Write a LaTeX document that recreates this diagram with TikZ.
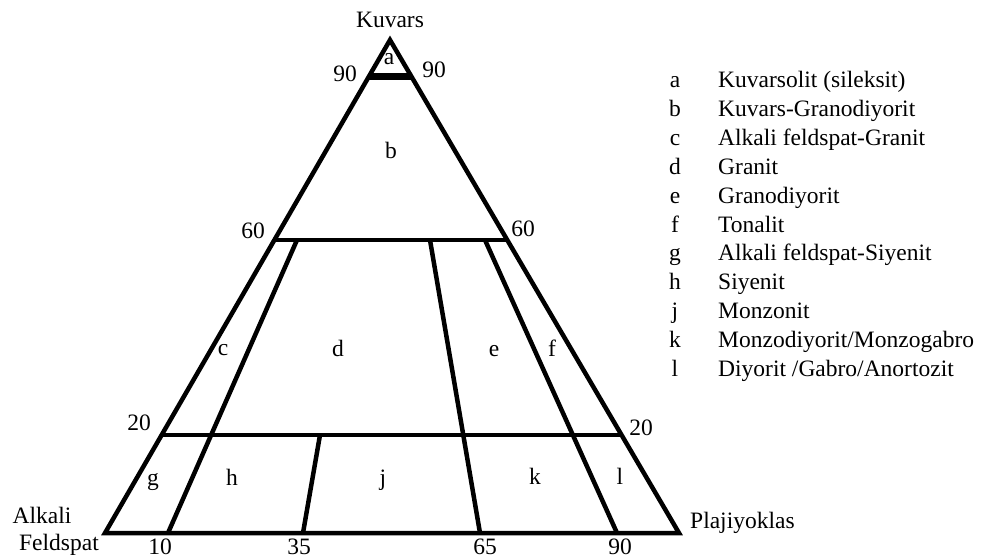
\documentclass[tikz,border=0pt]{standalone}
\usepackage{fontspec}
\setmainfont{Liberation Serif}
\usetikzlibrary{calc}
\begin{document}
\begin{tikzpicture}[x=1pt,y=-1pt,
  font=\fontsize{23.5}{28}\selectfont,
  edge/.style={line width=4.5pt, line join=miter},
  thickedge/.style={line width=7pt},
  lbl/.style={inner sep=0pt, anchor=base},
  lgl/.style={inner sep=0pt, anchor=base},
  lgn/.style={inner sep=0pt, anchor=base west}]
\useasboundingbox (0,0) rectangle (993,559);
% triangle corners
\coordinate (Q) at (390,40);
\coordinate (AF) at (105,533);
\coordinate (PL) at (679,533);
% horizontal level points on edges
\coordinate (L90) at ($(Q)!0.075!(AF)$);
\coordinate (R90) at ($(Q)!0.075!(PL)$);
\coordinate (L60) at ($(Q)!0.4057!(AF)$);
\coordinate (R60) at ($(Q)!0.4057!(PL)$);
\coordinate (L20) at ($(Q)!0.8012!(AF)$);
\coordinate (R20) at ($(Q)!0.8012!(PL)$);
% inner line ends
\coordinate (b10) at (168,533); \coordinate (t10) at (297,240);
\coordinate (b35) at (303,533); \coordinate (t35) at (320,435);
\coordinate (b65) at (480,533); \coordinate (t65) at (430,240);
\coordinate (b90) at (617,533); \coordinate (t90) at (485,240);
% outline
\draw[edge] (Q) -- (PL) -- (AF) -- cycle;
\draw[thickedge] (L90) -- (R90);
\draw[edge] (L60) -- (R60);
\draw[edge] (L20) -- (R20);
\draw[edge] (b10) -- (t10);
\draw[edge] (b35) -- (t35);
\draw[edge] (b65) -- (t65);
\draw[edge] (b90) -- (t90);
% corner labels
\node[lbl] (kuv) at (390,27.5) {Kuvars};
\node[lbl] (alk) at (42,523) {Alkali};
\node[lbl] (fel) at (59,550) {Feldspat};
\node[lbl, anchor=base west] (plj) at (690,528) {Plajiyoklas};
% level numbers
\node[lbl] (n90l) at (345,82) {90};
\node[lbl] (n90r) at (434,78) {90};
\node[lbl] (n60l) at (253,238) {60};
\node[lbl] (n60r) at (523,236) {60};
\node[lbl] (n20l) at (139,430) {20};
\node[lbl] (n20r) at (641,435) {20};
\node[lbl] (n10) at (160,554.5) {10};
\node[lbl] (n35) at (299,554.5) {35};
\node[lbl] (n65) at (485,554.5) {65};
\node[lbl] (n90) at (620,554.5) {90};
% field letters
\node[lbl] (fa) at (389,65) {a};
\node[lbl] (fb) at (391,158) {b};
\node[lbl] (fc) at (223,355) {c};
\node[lbl] (fd) at (338,356) {d};
\node[lbl] (fe) at (494,356) {e};
\node[lbl] (ff) at (552,356) {f};
\node[lbl] (fg) at (153,485) {g};
\node[lbl] (fh) at (232,485) {h};
\node[lbl] (fj) at (383,485) {j};
\node[lbl] (fk) at (535,484) {k};
\node[lbl] (fl) at (620,484) {l};
% legend
\foreach \i/\l/\t in {0/a/{Kuvarsolit (sileksit)},1/b/{Kuvars-Granodiyorit},2/c/{Alkali feldspat-Granit},3/d/{Granit},4/e/{Granodiyorit},5/f/{Tonalit},6/g/{Alkali feldspat-Siyenit},7/h/{Siyenit},8/j/{Monzonit},9/k/{Monzodiyorit/Monzogabro},10/l/{Diyorit /Gabro/Anortozit}}{
  \node[lgl] (lg\i) at (675,88+28.8*\i) {\l};
  \node[lgn] (ln\i) at (718,88+28.8*\i) {\t};
}
\end{tikzpicture}
\end{document}
